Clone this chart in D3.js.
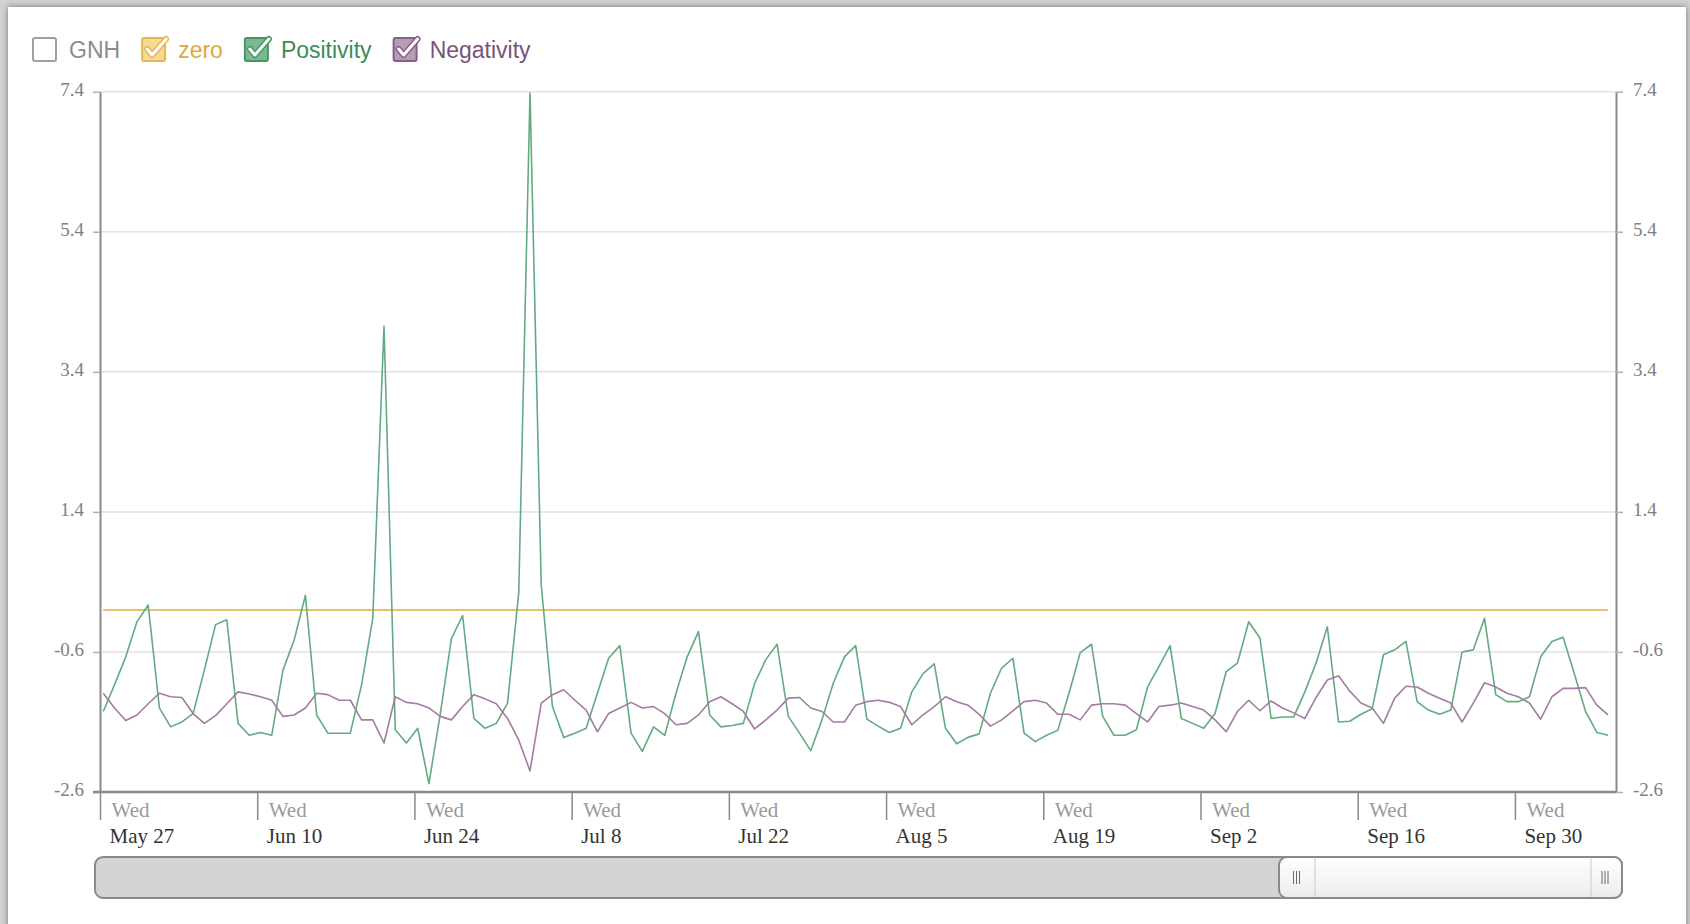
<!DOCTYPE html>
<html lang="en">
<head>
<meta charset="utf-8">
<title>GNH - Positivity / Negativity</title>
<script src="https://d3js.org/d3.v7.min.js"></script>
<style>
  body { margin:0; background:#d2d2d2; width:1690px; height:924px; overflow:hidden; position:relative; }
  #panel { position:absolute; left:8px; top:7px; width:1678px; height:940px; background:#fff;
           box-shadow:0 0 6px rgba(0,0,0,0.45); }
  svg { position:absolute; left:0; top:0; }
</style>
</head>
<body>
<div id="panel"></div>
<script>
  // daily values, starting Wed May 27 2009
  var startDay = "2009-05-27";
  var domainEnd = "2009-10-09";

  var positivity = [
    -1.45,-1.07,-0.67,-0.17, 0.07,-1.40,-1.67,-1.60,-1.48,-0.86,
    -0.21,-0.14,-1.62,-1.79,-1.75,-1.79,-0.86,-0.43, 0.21,-1.50,
    -1.76,-1.76,-1.76,-1.07,-0.12, 4.05,-1.71,-1.90,-1.69,-2.48,
    -1.50,-0.41,-0.08,-1.55,-1.69,-1.62,-1.33, 0.25, 7.38, 0.36,
    -1.38,-1.82,-1.76,-1.69,-1.19,-0.69,-0.51,-1.76,-2.02,-1.67,
    -1.79,-1.19,-0.67,-0.31,-1.50,-1.67,-1.65,-1.62,-1.05,-0.71,
    -0.49,-1.52,-1.76,-2.01,-1.57,-1.05,-0.67,-0.51,-1.56,-1.66,
    -1.75,-1.69,-1.17,-0.91,-0.77,-1.69,-1.91,-1.82,-1.77,-1.19,
    -0.83,-0.69,-1.76,-1.88,-1.79,-1.72,-1.19,-0.61,-0.49,-1.52,
    -1.79,-1.79,-1.71,-1.10,-0.81,-0.51,-1.55,-1.62,-1.69,-1.48,
    -0.88,-0.76,-0.17,-0.40,-1.55,-1.53,-1.53,-1.17,-0.76,-0.24,
    -1.60,-1.59,-1.49,-1.41,-0.64,-0.57,-0.45,-1.31,-1.43,-1.49,
    -1.43,-0.60,-0.57,-0.12,-1.21,-1.31,-1.31,-1.24,-0.67,-0.45,
    -0.39,-0.91,-1.45,-1.75,-1.79
  ];

  var negativity = [
    -1.19,-1.40,-1.58,-1.50,-1.34,-1.19,-1.24,-1.25,-1.48,-1.62,
    -1.51,-1.34,-1.17,-1.20,-1.24,-1.29,-1.52,-1.50,-1.40,-1.19,
    -1.21,-1.29,-1.29,-1.57,-1.57,-1.90,-1.24,-1.32,-1.34,-1.40,
    -1.52,-1.57,-1.38,-1.21,-1.27,-1.34,-1.55,-1.86,-2.30,-1.33,
    -1.21,-1.14,-1.29,-1.43,-1.74,-1.48,-1.40,-1.32,-1.40,-1.38,
    -1.48,-1.64,-1.62,-1.50,-1.31,-1.24,-1.34,-1.45,-1.70,-1.57,
    -1.43,-1.26,-1.25,-1.40,-1.45,-1.60,-1.60,-1.36,-1.31,-1.29,
    -1.32,-1.38,-1.64,-1.50,-1.38,-1.24,-1.31,-1.36,-1.49,-1.66,
    -1.57,-1.44,-1.31,-1.29,-1.33,-1.49,-1.49,-1.57,-1.36,-1.34,
    -1.34,-1.36,-1.48,-1.60,-1.38,-1.36,-1.33,-1.38,-1.43,-1.57,
    -1.74,-1.45,-1.29,-1.44,-1.30,-1.40,-1.47,-1.55,-1.25,-1.00,
    -0.94,-1.16,-1.33,-1.40,-1.62,-1.26,-1.09,-1.10,-1.19,-1.26,
    -1.33,-1.60,-1.33,-1.04,-1.10,-1.19,-1.24,-1.33,-1.56,-1.24,
    -1.12,-1.12,-1.11,-1.36,-1.50
  ];

  var zeroLevel = 0;
  var yTicks = [-2.6, -0.6, 1.4, 3.4, 5.4, 7.4];
  var xTickDates = ["2009-05-27","2009-06-10","2009-06-24","2009-07-08","2009-07-22",
                    "2009-08-05","2009-08-19","2009-09-02","2009-09-16","2009-09-30"];
  var legendNames = ["GNH", "zero", "Positivity", "Negativity"];
  var legendOn = [false, true, true, true];

  var colors = {
    GNH:        {text:"#8c8c8c", line:"#999",    fill:"#fff",    border:"#a0a0a0"},
    zero:       {text:"#e0a93c", line:"#e6c26a", fill:"#f6d992", border:"#e4b752"},
    Positivity: {text:"#3c8c58", line:"#62ab80", fill:"#79bb90", border:"#4a9465"},
    Negativity: {text:"#7a527a", line:"#a27ca2", fill:"#b79bb7", border:"#85618a"}
  };

  var parse = d3.timeParse("%Y-%m-%d");
  var start = parse(startDay);
  // timestamps are 07:00 UTC (local midnight, PDT)
  var dates = positivity.map(function(d, i){ return d3.timeHour.offset(d3.timeDay.offset(start, i), 7); });

  var W = 1690, H = 924;
  var plotLeft = 100, plotRight = 1616, plotTop = 91.7, plotBottom = 792;

  var svg = d3.select("body").append("svg").attr("width", W).attr("height", H);

  var x = d3.scaleTime().domain([start, parse(domainEnd)]).range([plotLeft, plotRight]);
  var y = d3.scaleLinear().domain([-2.6, 7.4]).range([plotBottom, plotTop]);

  // grid
  svg.append("g").selectAll("line").data(yTicks).enter().append("line")
    .attr("x1", plotLeft).attr("x2", plotRight)
    .attr("y1", function(d){ return y(d); }).attr("y2", function(d){ return y(d); })
    .attr("stroke", "#e2e2e2").attr("stroke-width", 1.5);

  // y axes
  var fmt = function(d){ return d.toFixed(1); };
  var gl = svg.append("g").attr("transform", "translate(" + plotLeft + ",0)")
    .call(d3.axisLeft(y).tickValues(yTicks).tickSize(7).tickSizeOuter(0).tickPadding(9).tickFormat(fmt));
  var gr = svg.append("g").attr("transform", "translate(" + plotRight + ",0)")
    .call(d3.axisRight(y).tickValues(yTicks).tickSize(7).tickSizeOuter(0).tickPadding(10).tickFormat(fmt));
  [gl, gr].forEach(function(g){
    g.select(".domain").attr("stroke", "#8a8a8a").attr("stroke-width", 2);
    g.selectAll(".tick line").attr("stroke", "#b0b0b0").attr("stroke-width", 1.5);
    g.selectAll(".tick text").attr("fill", "#808080").attr("font-family", "'Liberation Serif', serif")
      .attr("font-size", 19).attr("dy", "0.2em");
  });

  // x axis
  var tickDates = xTickDates.map(parse);
  var gx = svg.append("g").attr("transform", "translate(0," + plotBottom + ")")
    .call(d3.axisBottom(x).tickValues(tickDates).tickSize(28).tickSizeOuter(0).tickFormat(""));
  gx.select(".domain").attr("stroke", "#8a8a8a").attr("stroke-width", 2.5)
    .attr("d", "M" + (plotLeft - 7) + ",0H" + plotRight);
  gx.selectAll(".tick line").attr("stroke", "#888").attr("stroke-width", 1.5);
  gx.selectAll(".tick").append("text")
    .attr("x", 11).attr("y", 25).attr("text-anchor", "start")
    .attr("font-family", "'Liberation Serif', serif").attr("font-size", 21)
    .attr("fill", "#9a9a9a").text(d3.timeFormat("%a"));
  gx.selectAll(".tick").append("text")
    .attr("x", 9).attr("y", 51).attr("text-anchor", "start")
    .attr("font-family", "'Liberation Serif', serif").attr("font-size", 21)
    .attr("fill", "#333").text(d3.timeFormat("%b %-d"));

  // series
  var line = d3.line().x(function(d, i){ return x(dates[i]); }).y(function(d){ return y(d); });

  svg.append("line")
    .attr("x1", x(dates[0])).attr("x2", x(dates[dates.length - 1]))
    .attr("y1", y(zeroLevel)).attr("y2", y(zeroLevel))
    .attr("stroke", colors.zero.line).attr("stroke-width", 2);

  svg.append("path").datum(positivity).attr("d", line)
    .attr("fill", "none").attr("stroke", colors.Positivity.line).attr("stroke-width", 1.6)
    .attr("stroke-linejoin", "round");
  svg.append("path").datum(negativity).attr("d", line)
    .attr("fill", "none").attr("stroke", colors.Negativity.line).attr("stroke-width", 1.6)
    .attr("stroke-linejoin", "round");

  // legend
  var lx = 32;
  legendNames.forEach(function(name, i){
    var c = colors[name];
    var g = svg.append("g").attr("transform", "translate(" + lx + ",37)");
    g.append("rect").attr("x", 1).attr("y", 1).attr("width", 23).attr("height", 23).attr("rx", 2)
      .attr("fill", c.fill).attr("stroke", c.border).attr("stroke-width", 2);
    if (legendOn[i]) {
      var chk = "M6,12 L11,18 L25,2";
      g.append("path").attr("d", chk).attr("fill", "none").attr("stroke", c.border)
        .attr("stroke-width", 6).attr("stroke-linecap", "round").attr("stroke-linejoin", "round");
      g.append("path").attr("d", chk).attr("fill", "none").attr("stroke", "#fff")
        .attr("stroke-width", 3).attr("stroke-linecap", "round").attr("stroke-linejoin", "round");
    }
    var t = g.append("text").attr("x", 37).attr("y", 21)
      .attr("font-family", "'Liberation Sans', Arial, sans-serif").attr("font-size", 23)
      .attr("fill", c.text).text(name);
    lx += 37 + t.node().getComputedTextLength() + 21;
  });

  // navigator / scrollbar
  var sb = svg.append("g");
  var grad = svg.append("defs").append("linearGradient").attr("id", "thumb")
    .attr("x1", 0).attr("y1", 0).attr("x2", 0).attr("y2", 1);
  grad.append("stop").attr("offset", "0%").attr("stop-color", "#ffffff");
  grad.append("stop").attr("offset", "100%").attr("stop-color", "#ececec");
  sb.append("rect").attr("x", 95).attr("y", 857).attr("width", 1527).attr("height", 41).attr("rx", 8)
    .attr("fill", "#d4d4d4").attr("stroke", "#8a8a8a").attr("stroke-width", 2);
  sb.append("rect").attr("x", 1279).attr("y", 857).attr("width", 343).attr("height", 41).attr("rx", 8)
    .attr("fill", "url(#thumb)").attr("stroke", "#8a8a8a").attr("stroke-width", 2);
  [1315, 1591].forEach(function(px){
    sb.append("line").attr("x1", px).attr("x2", px).attr("y1", 858).attr("y2", 897)
      .attr("stroke", "#d8d8d8").attr("stroke-width", 1.5);
  });
  [1296.5, 1605].forEach(function(px){
    [-3, 0, 3].forEach(function(o){
      sb.append("line").attr("x1", px + o).attr("x2", px + o).attr("y1", 871).attr("y2", 884)
        .attr("stroke", "#666").attr("stroke-width", 1);
    });
  });
</script>
</body>
</html>
